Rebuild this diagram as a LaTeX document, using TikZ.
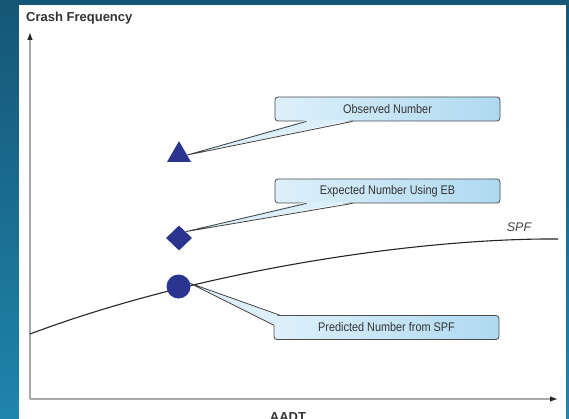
\documentclass[tikz,border=0pt]{standalone}
\usepackage{fontspec}
\setmainfont{Liberation Sans}
\newfontfamily\calloutfont[FakeStretch=0.87]{Liberation Sans}
\usepackage{tikz}
\usetikzlibrary{shapes.geometric,arrows.meta,calc}

\definecolor{bgtop}{HTML}{165676}
\definecolor{bgbot}{HTML}{1F85AC}
\definecolor{markblue}{HTML}{29358F}
\definecolor{boxleft}{HTML}{DDF0FB}
\definecolor{boxright}{HTML}{AFD9F0}
\definecolor{axisgray}{HTML}{A8A8A8}

\tikzset{
  axis/.style={draw=axisgray, line width=1.2pt,
    -{Latex[length=8pt,width=5.5pt,color=black!85]}},
  callout/.style={draw=black!70, line width=0.8pt, rounded corners=3pt,
    left color=boxleft, right color=boxright,
    minimum width=225pt, minimum height=24pt, inner sep=0pt,
    text=black!80, font=\calloutfont\fontsize{12.5}{14}\selectfont},
  tailfill/.style={fill=boxleft!95!boxright},
  tailedge/.style={draw=black!75, line width=0.8pt},
  marker/.style={fill=markblue, draw=none, inner sep=0pt}
}

\begin{document}
\begin{tikzpicture}[x=1pt, y=-1pt]
\useasboundingbox (0,0) rectangle (569,419);
%background
\shade[top color=bgtop, bottom color=bgbot] (0,0) rectangle (569,419);
\fill[white] (19,5) rectangle (566,419);
%axes
\coordinate (origin) at (30,399);
\coordinate (ytop) at (30,32);
\coordinate (xend) at (558,399);
\draw[axis] (origin) -- (ytop);
\draw[axis] (origin) -- (xend);
\node[anchor=west, inner sep=0pt, text=black!80,
      font=\bfseries\fontsize{13}{15}\selectfont] (ylabel) at (26,18) {Crash Frequency};
\node[anchor=north, inner sep=0pt, text=black!80,
      font=\bfseries\fontsize{13}{15}\selectfont] (xlabel) at (288,412) {AADT};
%spf curve
\draw[black!85, line width=1.1pt] (30,334) .. controls (200,270) and (420,238) .. (558,239);
\node[text=black!75, font=\itshape\fontsize{12.5}{14}\selectfont] (spf) at (519,227) {SPF};
%markers
\node[marker, regular polygon, regular polygon sides=3, minimum size=27.7pt] (tri) at (179,155) {};
\node[marker, diamond, minimum width=26pt, minimum height=25pt] (dia) at (179,238) {};
\node[marker, circle, minimum size=24pt] (dot) at (178.5,286.5) {};
%callout boxes
\node[callout] (obs) at (387.5,109) {Observed Number};
\node[callout] (exp) at (387.5,191) {Expected Number Using EB};
\node[callout] (pred) at (386.5,327.5) {Predicted Number from SPF};
%tails
\fill[tailfill] (tri.east) -- ($(obs.south west)+(32,-1.5)$) -- ($(obs.south west)+(78,-1.5)$) -- cycle;
\draw[tailedge] ($(obs.south west)+(32,0)$) -- (tri.east) -- ($(obs.south west)+(78,0)$);
\fill[tailfill] (dia.north east) -- ($(exp.south west)+(32,-1.5)$) -- ($(exp.south west)+(78,-1.5)$) -- cycle;
\draw[tailedge] ($(exp.south west)+(32,0)$) -- (dia.north east) -- ($(exp.south west)+(78,0)$);
\fill[tailfill] (dot.15) -- ($(pred.north west)+(7,1.5)$) -- ($(pred.north west)+(1.5,10)$) -- cycle;
\draw[tailedge] ($(pred.north west)+(6,0)$) -- (dot.15) -- ($(pred.north west)+(0,10)$);
\end{tikzpicture}
\end{document}
